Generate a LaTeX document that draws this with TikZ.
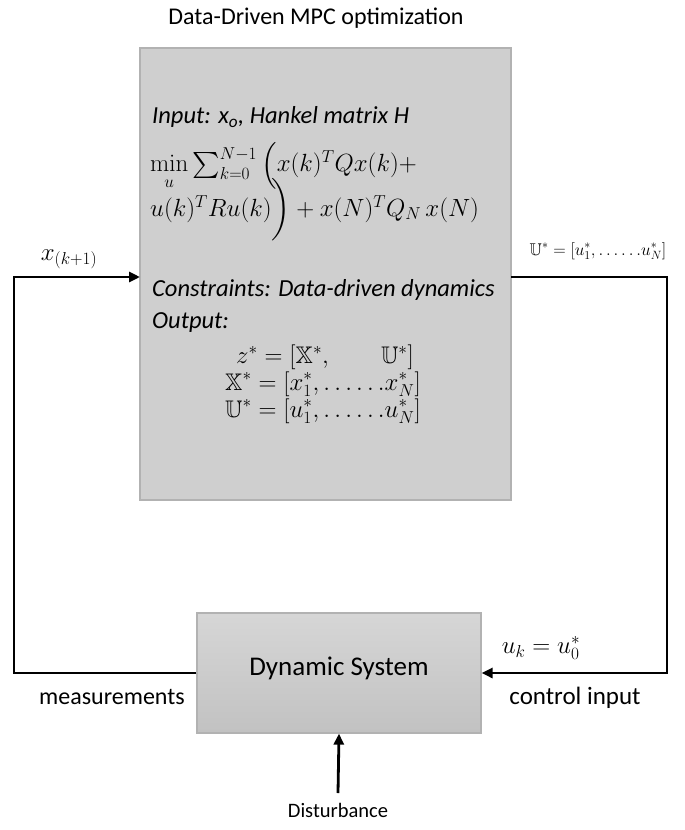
\documentclass[tikz,border=0pt]{standalone}
\usepackage{amsmath,amssymb}
\usepackage[no-math]{fontspec}
\setmainfont{Carlito}
\usetikzlibrary{arrows.meta}
\begin{document}
\begin{tikzpicture}[x=1pt,y=-1pt,
  blk/.style={draw=black!30,line width=1.2pt,fill=black!19,inner sep=0pt},
  wire/.style={line width=2.8pt,black},
  arr/.style={wire,-{Triangle[length=11pt,width=10pt]}},
  lbl/.style={inner sep=0pt,font=\fontsize{24}{28}\selectfont},
  itx/.style={inner sep=0pt,anchor=west,font=\fontsize{24.5}{29}\selectfont\itshape},
  mth/.style={inner sep=0pt,font=\fontsize{24}{28}\selectfont}]
\useasboundingbox (0,0) rectangle (685,830);
\node[lbl] (title) at (316,18) {Data-Driven MPC optimization};
\node[blk,minimum width=371pt,minimum height=452pt] (mpc) at (325.5,274) {};
\node[blk,minimum width=284pt,minimum height=120pt,top color=black!16,bottom color=black!24] (dyn) at (339,673) {};
\node[inner sep=0pt,font=\fontsize{27}{32}\selectfont] (dyntxt) at (339,668) {Dynamic System};
% text inside the MPC box
\node[itx] (inp) at (152,117) {Input: x\textsubscript{o}, Hankel matrix H};
\node[mth,anchor=west,font=\fontsize{26}{31}\selectfont] (obj1) at (150,166) {$\min\limits_u \sum_{k=0}^{N-1}\Big(x(k)^TQx(k)+$};
\node[mth,anchor=west,font=\fontsize{26}{31}\selectfont] (obj2) at (150,210) {$u(k)^TRu(k)\bigg)+x(N)^TQ_N\,x(N)$};
\node[itx] (cons) at (152,290) {Constraints: Data-driven dynamics};
\node[itx] (outp) at (152,323) {Output:};
\node[mth] (z) at (325,357) {$z^*=[\mathbb{X}^*,\qquad\mathbb{U}^*]$};
\node[mth] (xs) at (323,384) {$\mathbb{X}^*=[x_1^*,{\ldots}\,{\ldots}x_N^*]$};
\node[mth] (us) at (323,411) {$\mathbb{U}^*=[u_1^*,{\ldots}\,{\ldots}u_N^*]$};
% connectors
\coordinate (inL) at (140,277);
\coordinate (cornL) at (14,277);
\coordinate (outR) at (511,277);
\coordinate (cornR) at (667,277);
\draw[arr] (dyn.west) -| (cornL) -- (inL);
\draw[arr] (outR) -- (cornR) |- (dyn.east);
\node[lbl,font=\fontsize{20.5}{24}\selectfont] (dist) at (338,810) {Disturbance};
\draw[arr] (338,793) -- (dyn.south);
% labels
\node[mth,font=\fontsize{27}{32}\selectfont] (xk) at (69,259) {$x_{(k+1)}$};
\node[inner sep=0pt,font=\fontsize{17}{20}\selectfont] (ulab) at (598,251) {$\mathbb{U}^*=[u_1^*,{\ldots}\,{\ldots}u_N^*]$};
\node[mth,font=\fontsize{27}{32}\selectfont] (uk) at (541,648) {$u_k=u_0^*$};
\node[lbl] (meas) at (112,697) {measurements};
\node[lbl,font=\fontsize{25}{29}\selectfont] (ctrl) at (575,698) {control input};
\end{tikzpicture}
\end{document}
